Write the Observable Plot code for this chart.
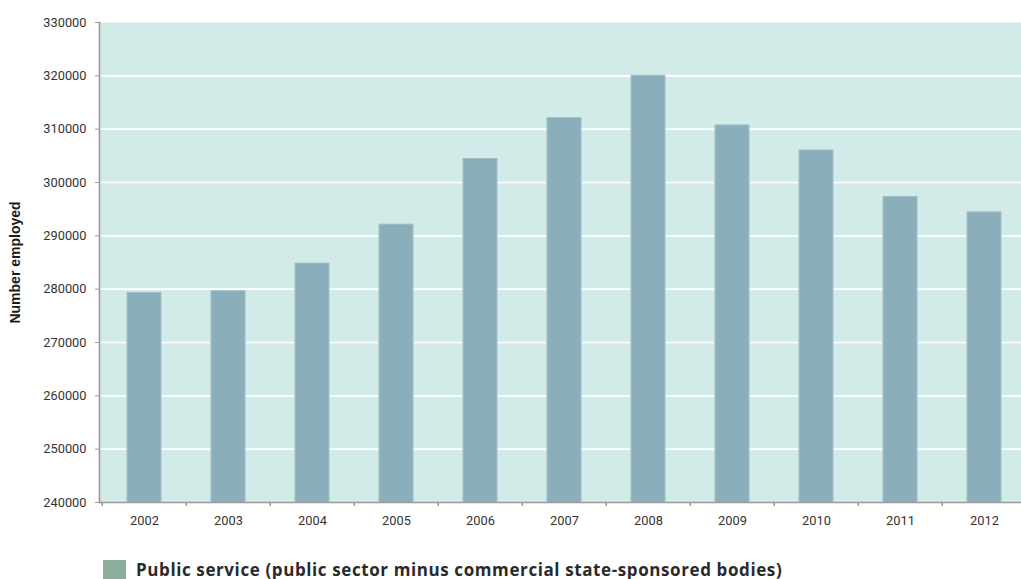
<!DOCTYPE html>
<html><head><meta charset="utf-8">
<script src="https://cdn.jsdelivr.net/npm/d3@7"></script>
<script src="https://cdn.jsdelivr.net/npm/@observablehq/plot@0.6"></script>
<style>
html,body{margin:0;padding:0;background:#fff;}
body{width:1021px;height:579px;overflow:hidden;}
#chart{width:1030px;}
#chart svg{display:block;}
.legend{display:flex;align-items:center;margin-left:103px;margin-top:12px;height:20px;font-family:"Open Sans",Roboto,sans-serif;font-weight:bold;font-size:17px;letter-spacing:0.6px;line-height:20px;color:#2a2a2a;}
.sw{width:23px;height:20px;background:#8dae9c;margin-right:10px;flex:none;}
</style></head><body>
<div id="chart"></div>
<script>
const years = ["2002","2003","2004","2005","2006","2007","2008","2009","2010","2011","2012"];
const employed = [279300, 279600, 284800, 292100, 304400, 312100, 320000, 310700, 306000, 297300, 294400];
const yTicks = [240000, 250000, 260000, 270000, 280000, 290000, 300000, 310000, 320000, 330000];
const gridTicks = [250000, 260000, 270000, 280000, 290000, 300000, 310000, 320000];
const baseline = 240000;
const yLabel = "Number employed";
const legendLabel = "Public service (public sector minus commercial state-sponsored bodies)";

const data = years.map((y, i) => ({year: y, value: employed[i]}));

const W = 1030, ML = 99, MR = 1;
const bw = (W - ML - MR) / years.length;

const chart = Plot.plot({
  width: W,
  height: 548,
  marginLeft: ML,
  marginRight: MR,
  marginTop: 22,
  marginBottom: 46,
  style: {fontFamily: "Roboto, 'DejaVu Sans', sans-serif", fontSize: "12.8px", background: "#fff", color: "#333"},
  x: {type: "band", domain: years, paddingInner: 0.6, paddingOuter: 0.3, align: 0.5},
  y: {domain: [240000, 330000]},
  marks: [
    Plot.frame({fill: "#d2ebe8", stroke: null}),
    Plot.gridY(gridTicks, {stroke: "#ffffff", strokeOpacity: 1, strokeWidth: 1.6}),
    Plot.barY(data, {x: "year", y1: baseline, y2: "value", fill: "#8aaeba", stroke: "#9fbfc8", strokeWidth: 1}),
    Plot.ruleY([baseline], {stroke: "#9a9a9a", strokeWidth: 1.6}),
    Plot.frame({anchor: "left", stroke: "#9a9a9a", strokeWidth: 1.6}),
    Plot.ruleX(years, {x: d => d, dx: -bw / 2, y1: baseline, y2: baseline, insetBottom: -4, stroke: "#9a9a9a", strokeWidth: 1.5}),
    Plot.axisY({ticks: yTicks, tickSize: 4, tickPadding: 9, stroke: "#9a9a9a", fill: "#333", label: null, tickFormat: d => String(d)}),
    Plot.axisX({tickSize: 0, tickPadding: 13, fill: "#333", label: null}),
    Plot.text([yLabel], {frameAnchor: "left", dx: -84, rotate: -90, textAnchor: "middle", text: d => d, fontFamily: "'Liberation Sans', Arial, sans-serif", fontWeight: "bold", fontSize: 14, fill: "#1a1a1a"})
  ]
});

const root = document.getElementById("chart");
root.appendChild(chart);
const lg = document.createElement("div");
lg.className = "legend";
lg.innerHTML = '<span class="sw"></span><span></span>';
lg.lastChild.textContent = legendLabel;
root.appendChild(lg);
</script>
</body></html>
